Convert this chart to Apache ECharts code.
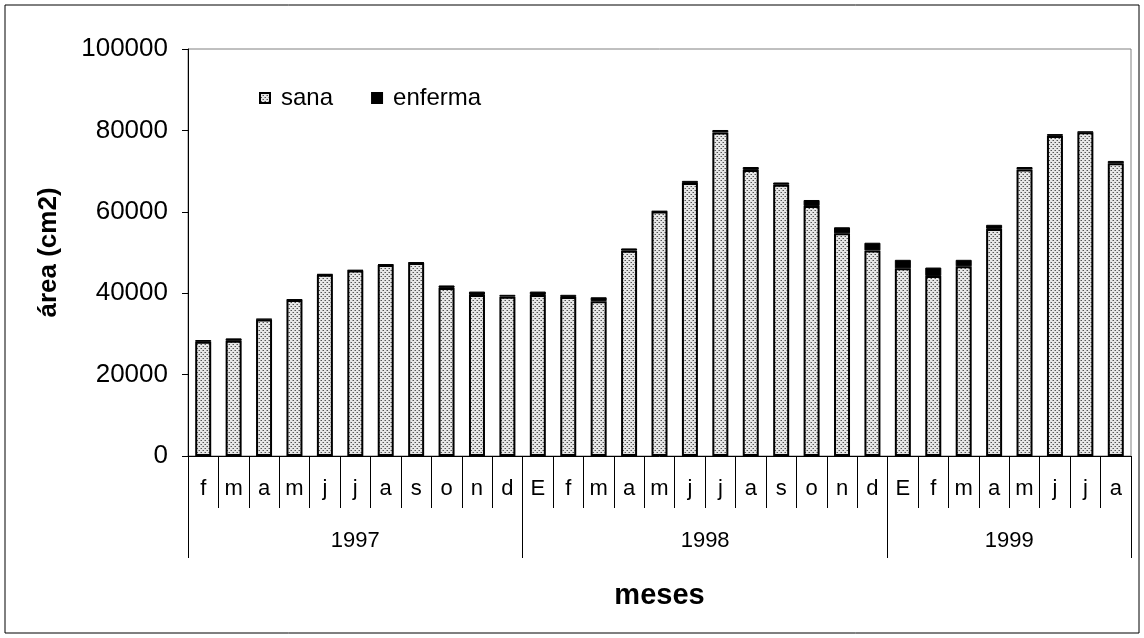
<!DOCTYPE html>
<html>
<head>
<meta charset="utf-8">
<style>
  html, body { margin: 0; padding: 0; background: #fff; }
  #chart { width: 1144px; height: 638px; }
</style>
<script src="https://cdn.jsdelivr.net/npm/echarts@6/dist/echarts.min.js"></script>
</head>
<body>
<div id="chart"></div>
<script>
// Monthly categories, February 1997 to August 1999
const months = ['f','m','a','m','j','j','a','s','o','n','d',
                'E','f','m','a','m','j','j','a','s','o','n','d',
                'E','f','m','a','m','j','j','a'];
const years = ['1997', '1998', '1999'];
const yearSpans = [11, 12, 8];

// Healthy area (cm2)
const sana = [28050, 28300, 33550, 38350, 44550, 45550, 46950, 47450, 41300, 39550, 39150,
              39550, 39050, 38050, 50450, 60050, 67050, 79500, 70300, 66650, 61400, 54700, 50500,
              46100, 44200, 46600, 55800, 70400, 78650, 79550, 71900];
// Diseased area (cm2)
const enferma = [450, 600, 150, 150, 150, 150, 150, 150, 600, 850, 450,
                 850, 550, 950, 550, 150, 550, 600, 700, 550, 1500, 1500, 1900,
                 2100, 2100, 1600, 1000, 600, 450, 150, 600];

const yTicks = [0, 20000, 40000, 60000, 80000, 100000];

// Year group boundaries and centres on a 0..N scale
const yearBounds = [0];
yearSpans.forEach(s => yearBounds.push(yearBounds[yearBounds.length - 1] + s));
const yearCenters = yearSpans.map((s, i) => yearBounds[i] + s / 2);

// Dotted fill for the healthy bars
function dotPattern() {
  const c = document.createElement('canvas');
  c.width = 4; c.height = 4;
  const g = c.getContext('2d');
  g.fillStyle = '#e6e6e6';
  g.fillRect(0, 0, 4, 4);
  g.fillStyle = '#555555';
  g.fillRect(1, 0, 1, 1);
  g.fillRect(3, 2, 1, 1);
  g.fillStyle = '#a0a0a0';
  g.fillRect(0, 0, 1, 1);
  g.fillRect(2, 2, 1, 1);
  return c;
}

const FONT = '"Liberation Sans", Arial, sans-serif';
const chart = echarts.init(document.getElementById('chart'), null, { renderer: 'canvas' });

chart.setOption({
  animation: false,
  backgroundColor: '#fff',
  textStyle: { fontFamily: FONT, color: '#000' },
  graphic: [{
    type: 'rect',
    shape: { x: 5, y: 5, width: 1134, height: 628 },
    style: { fill: 'none', stroke: '#000', lineWidth: 1 },
    silent: true
  }],
  grid: {
    left: 188, right: 13, top: 49, bottom: 182,
    show: true, borderColor: '#808080', borderWidth: 1, backgroundColor: 'transparent'
  },
  legend: {
    left: 254, top: 81,
    itemWidth: 10, itemHeight: 10, itemGap: 38,
    icon: 'rect',
    textStyle: { fontFamily: FONT, fontSize: 24, color: '#000', padding: [0, 0, 0, 6] },
    data: ['sana', 'enferma']
  },
  xAxis: [{
    type: 'category',
    data: months,
    boundaryGap: true,
    axisLine: { show: true, lineStyle: { color: '#000', width: 1 } },
    axisTick: { show: true, interval: 0, length: 52, lineStyle: { color: '#000' } },
    axisLabel: { interval: 0, margin: 22, fontSize: 22, color: '#000', fontFamily: FONT },
    splitLine: { show: false }
  }, {
    type: 'value',
    min: 0, max: months.length,
    position: 'bottom',
    offset: 52,
    axisLine: { show: false },
    axisTick: { show: true, customValues: yearBounds, length: 50, lineStyle: { color: '#000' } },
    axisLabel: {
      customValues: yearCenters, margin: 22, fontSize: 22, color: '#000', fontFamily: FONT,
      formatter: v => years[yearCenters.indexOf(v)] || ''
    },
    splitLine: { show: false },
    name: 'meses',
    nameLocation: 'middle',
    nameGap: 73,
    nameTextStyle: { fontSize: 29, fontWeight: 'bold', color: '#000', fontFamily: FONT }
  }],
  yAxis: {
    type: 'value',
    min: yTicks[0], max: yTicks[yTicks.length - 1], interval: 20000,
    axisLine: { show: true, lineStyle: { color: '#000', width: 1 } },
    axisTick: { show: true, length: 6, lineStyle: { color: '#000' } },
    axisLabel: { margin: 20, fontSize: 26, color: '#000', fontFamily: FONT, formatter: v => String(v) },
    splitLine: { show: false },
    name: 'área (cm2)',
    nameLocation: 'middle',
    nameGap: 126,
    nameTextStyle: { fontSize: 26, fontWeight: 'bold', color: '#000', fontFamily: FONT }
  },
  series: [{
    name: 'sana',
    type: 'bar',
    stack: 'area',
    barWidth: 16,
    data: sana,
    itemStyle: { color: { image: dotPattern(), repeat: 'repeat' }, borderColor: '#000', borderWidth: 2 }
  }, {
    name: 'enferma',
    type: 'bar',
    stack: 'area',
    barWidth: 16,
    data: enferma,
    itemStyle: { color: '#000', borderColor: '#000', borderWidth: 1 }
  }]
});
</script>
</body>
</html>
